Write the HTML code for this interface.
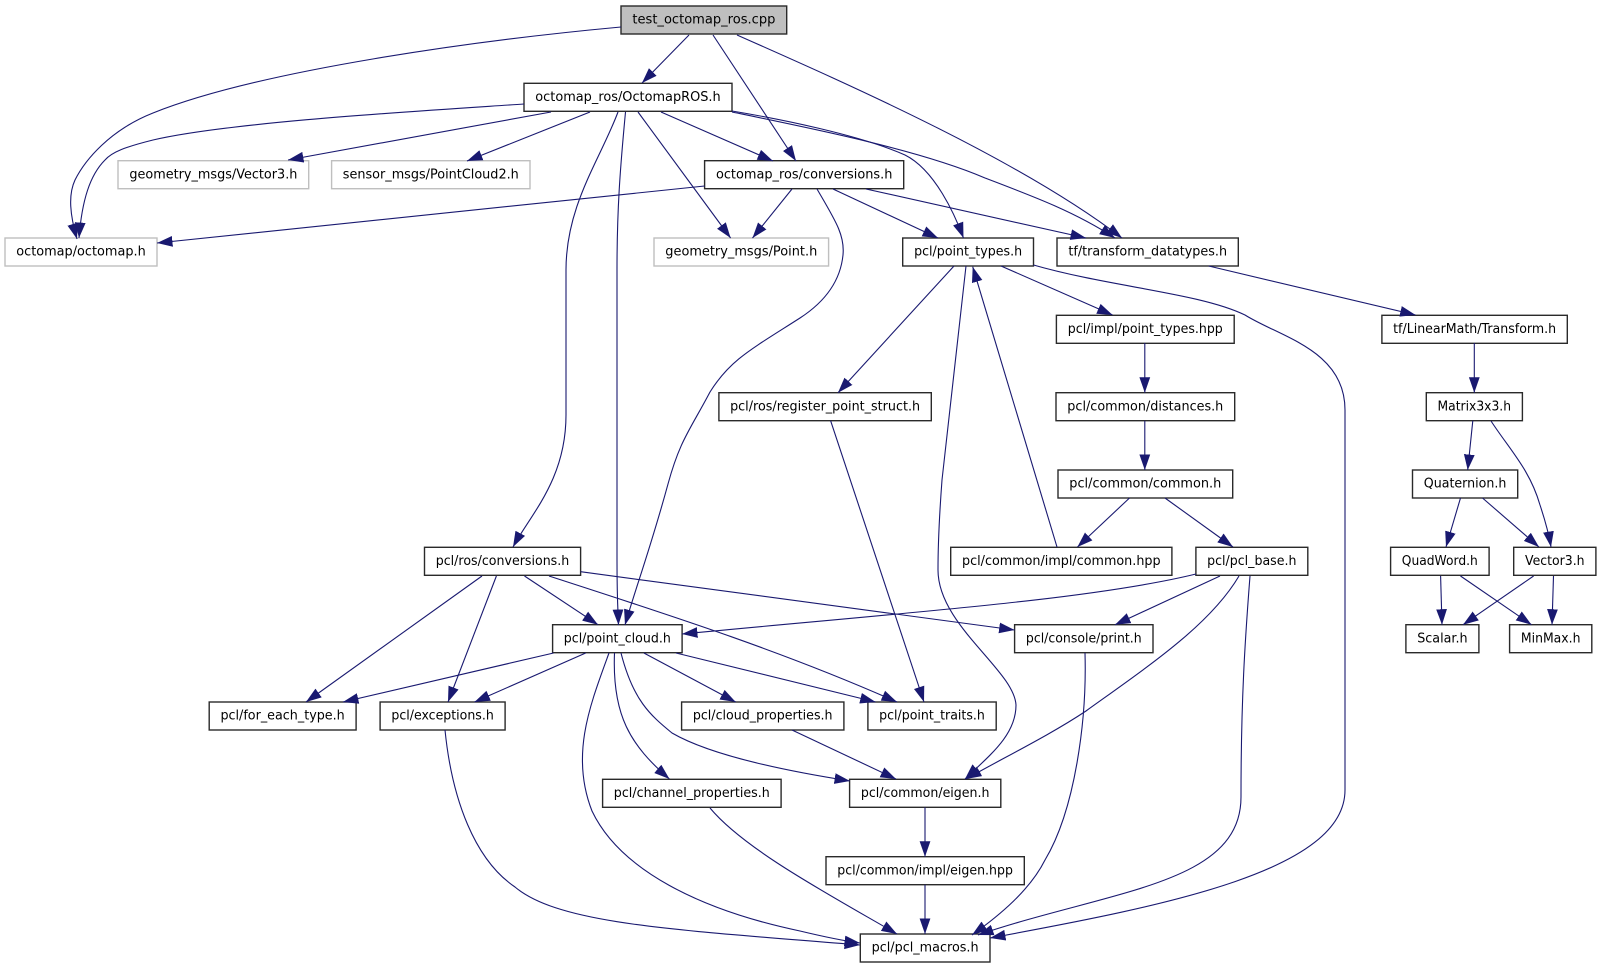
<!DOCTYPE html>
<html>
<head>
<meta charset="utf-8">
<style>
html,body{margin:0;padding:0;background:#fff;}
svg{display:block;}
text{font-family:"DejaVu Sans",sans-serif;font-size:13.5px;fill:#000;text-anchor:middle;}
rect{fill:#fff;stroke:#2a2a2a;stroke-width:1.4;}
rect.g{stroke:#bfbfbf;}
rect.r{fill:#bfbfbf;}
path{fill:none;stroke:#191970;stroke-width:1.1;marker-end:url(#a);}
</style>
</head>
<body>
<svg width="1601" height="968" viewBox="0 0 1601 968" xmlns="http://www.w3.org/2000/svg">
<defs>
<marker id="a" markerUnits="userSpaceOnUse" markerWidth="17" markerHeight="13" refX="15.5" refY="6" orient="auto">
<polygon points="0,0.6 15.5,6 0,11.4" fill="#191970"/>
</marker>
</defs>

<g>
<rect class="r" x="621" y="6" width="165.7" height="28"/>
<rect x="524" y="83.3" width="208" height="28"/>
<rect class="g" x="118" y="160.7" width="190.7" height="28"/>
<rect class="g" x="331.6" y="160.7" width="198.4" height="28"/>
<rect x="704.6" y="160.7" width="199.1" height="28"/>
<rect class="g" x="5" y="238" width="152" height="28"/>
<rect class="g" x="654" y="238" width="174.6" height="28"/>
<rect x="902.7" y="238" width="130.8" height="28"/>
<rect x="1057" y="238" width="181.3" height="28"/>
<rect x="1056.4" y="315.3" width="177.8" height="28"/>
<rect x="1381.9" y="315.3" width="185.4" height="28"/>
<rect x="718.9" y="392.7" width="212.4" height="28"/>
<rect x="1056" y="392.7" width="178.7" height="28"/>
<rect x="1426.3" y="392.7" width="96.1" height="28"/>
<rect x="1058" y="470" width="174.7" height="28"/>
<rect x="1412.5" y="470" width="105.2" height="28"/>
<rect x="424.5" y="547.3" width="156.1" height="28"/>
<rect x="950.7" y="547.3" width="221.2" height="28"/>
<rect x="1195.9" y="547.3" width="111.9" height="28"/>
<rect x="1390.6" y="547.3" width="98.5" height="28"/>
<rect x="1513.7" y="547.3" width="82.2" height="28"/>
<rect x="552.6" y="624.7" width="129.5" height="28"/>
<rect x="1014.6" y="624.7" width="138.4" height="28"/>
<rect x="1405.9" y="624.7" width="73" height="28"/>
<rect x="1509.6" y="624.7" width="82.2" height="28"/>
<rect x="209.2" y="702" width="146.9" height="28"/>
<rect x="380.1" y="702" width="125" height="28"/>
<rect x="681.6" y="702" width="162.3" height="28"/>
<rect x="867.9" y="702" width="128.3" height="28"/>
<rect x="602.6" y="779.3" width="178.5" height="28"/>
<rect x="849.6" y="779.3" width="151.2" height="28"/>
<rect x="826" y="856.7" width="198.3" height="28"/>
<rect x="860.3" y="934" width="129.7" height="28"/>
</g>

<g transform="translate(0,-0.5)">
<text x="703.9" y="24.2" textLength="143" lengthAdjust="spacingAndGlyphs">test_octomap_ros.cpp</text>
<text x="628" y="101.5" textLength="185.4" lengthAdjust="spacingAndGlyphs">octomap_ros/OctomapROS.h</text>
<text x="213.4" y="178.9" textLength="168" lengthAdjust="spacingAndGlyphs">geometry_msgs/Vector3.h</text>
<text x="430.8" y="178.9" textLength="176" lengthAdjust="spacingAndGlyphs">sensor_msgs/PointCloud2.h</text>
<text x="804.2" y="178.9" textLength="176.5" lengthAdjust="spacingAndGlyphs">octomap_ros/conversions.h</text>
<text x="81" y="256.2" textLength="129.5" lengthAdjust="spacingAndGlyphs">octomap/octomap.h</text>
<text x="741.3" y="256.2" textLength="152" lengthAdjust="spacingAndGlyphs">geometry_msgs/Point.h</text>
<text x="968.1" y="256.2" textLength="108" lengthAdjust="spacingAndGlyphs">pcl/point_types.h</text>
<text x="1147.7" y="256.2" textLength="158.7" lengthAdjust="spacingAndGlyphs">tf/transform_datatypes.h</text>
<text x="1145.3" y="333.5" textLength="155" lengthAdjust="spacingAndGlyphs">pcl/impl/point_types.hpp</text>
<text x="1474.6" y="333.5" textLength="163" lengthAdjust="spacingAndGlyphs">tf/LinearMath/Transform.h</text>
<text x="825.1" y="410.9" textLength="190" lengthAdjust="spacingAndGlyphs">pcl/ros/register_point_struct.h</text>
<text x="1145.3" y="410.9" textLength="156" lengthAdjust="spacingAndGlyphs">pcl/common/distances.h</text>
<text x="1474.3" y="410.9" textLength="73.5" lengthAdjust="spacingAndGlyphs">Matrix3x3.h</text>
<text x="1145.3" y="488.2" textLength="152" lengthAdjust="spacingAndGlyphs">pcl/common/common.h</text>
<text x="1465.1" y="488.2" textLength="82.6" lengthAdjust="spacingAndGlyphs">Quaternion.h</text>
<text x="502.5" y="565.5" textLength="133.5" lengthAdjust="spacingAndGlyphs">pcl/ros/conversions.h</text>
<text x="1061.3" y="565.5" textLength="198.6" lengthAdjust="spacingAndGlyphs">pcl/common/impl/common.hpp</text>
<text x="1251.8" y="565.5" textLength="89.3" lengthAdjust="spacingAndGlyphs">pcl/pcl_base.h</text>
<text x="1439.8" y="565.5" textLength="76" lengthAdjust="spacingAndGlyphs">QuadWord.h</text>
<text x="1554.8" y="565.5" textLength="59.6" lengthAdjust="spacingAndGlyphs">Vector3.h</text>
<text x="617.3" y="642.9" textLength="107" lengthAdjust="spacingAndGlyphs">pcl/point_cloud.h</text>
<text x="1083.8" y="642.9" textLength="115.8" lengthAdjust="spacingAndGlyphs">pcl/console/print.h</text>
<text x="1442.4" y="642.9" textLength="50.4" lengthAdjust="spacingAndGlyphs">Scalar.h</text>
<text x="1550.7" y="642.9" textLength="59.6" lengthAdjust="spacingAndGlyphs">MinMax.h</text>
<text x="282.6" y="720.2" textLength="124.3" lengthAdjust="spacingAndGlyphs">pcl/for_each_type.h</text>
<text x="442.6" y="720.2" textLength="102.4" lengthAdjust="spacingAndGlyphs">pcl/exceptions.h</text>
<text x="762.7" y="720.2" textLength="139.7" lengthAdjust="spacingAndGlyphs">pcl/cloud_properties.h</text>
<text x="932" y="720.2" textLength="105.7" lengthAdjust="spacingAndGlyphs">pcl/point_traits.h</text>
<text x="691.8" y="797.5" textLength="156" lengthAdjust="spacingAndGlyphs">pcl/channel_properties.h</text>
<text x="925.2" y="797.5" textLength="128.6" lengthAdjust="spacingAndGlyphs">pcl/common/eigen.h</text>
<text x="925.1" y="874.9" textLength="175.7" lengthAdjust="spacingAndGlyphs">pcl/common/impl/eigen.hpp</text>
<text x="925.1" y="952.2" textLength="107" lengthAdjust="spacingAndGlyphs">pcl/pcl_macros.h</text>
</g>

<g>
<!-- root -->
<path d="M621,27 C480,40 260,70 153,113 C110,130 85,160 75,180 C68,195 70,215 77,239"/>
<path d="M689,35 L642,83"/>
<path d="M713,35 L796,161"/>
<path d="M737,35 C850,85 1020,160 1122,238"/>
<!-- OctomapROS -->
<path d="M524,104 C420,111 230,122 153,140 C125,147 112,152 105,160 C90,175 82,200 79,238"/>
<path d="M551,112 L288,160"/>
<path d="M590,112 L467,161"/>
<path d="M618,112 C600,160 566,205 566,270 L566,415 C566,480 530,515 513,547"/>
<path d="M625.5,112 C620,170 617,210 617,270 L617,560 C617,600 618,610 618.5,625"/>
<path d="M638,112 L730.6,238"/>
<path d="M661,112 L773,161"/>
<path d="M732,111 C780,119 860,135 905,155 C935,170 955,215 963.5,238"/>
<path d="M732,112 C810,128 920,150 985,178 C1035,197 1075,212 1115,238"/>
<!-- conversions -->
<path d="M704.6,186 L157,243"/>
<path d="M792,189 L752.5,238"/>
<path d="M817,189 C835,220 845,235 843,255 C840,285 820,305 800,318 C750,350 730,360 710,392 C690,430 680,440 668,484 C650,550 635,590 625,625"/>
<path d="M833,189 L938,238"/>
<path d="M866,189 L1086,238"/>
<!-- point_types -->
<path d="M954,266 L838,392.7"/>
<path d="M1001,266 L1112.6,315"/>
<path d="M1033.5,265 C1110,287 1200,293 1245,315 C1280,337 1345,350 1345,410 L1345,790 C1345,870 1170,905 990,938"/>
<path d="M966,266 L942,480 C939,520 938,550 938,570 C938,625 1014,670 1016,705 C1016,735 990,755 965,779"/>
<path d="M1057,547 L972.7,266.7"/>
<path d="M1144.8,343 L1144.8,392.7"/>
<path d="M1144.8,420.7 L1144.8,470"/>
<path d="M1129.5,498 L1077.4,547"/>
<path d="M1165,498 L1233,547"/>
<!-- pcl_base -->
<path d="M1196,574 C1090,600 900,613 682,634"/>
<path d="M1220,576 L1115,624.7"/>
<path d="M1239,576 C1210,625 1150,665 1086,711 C1050,735 1005,757 966,779"/>
<path d="M1250,576 C1245,640 1241,700 1241,797 C1241,885 1110,890 978,935"/>
<path d="M1085,653 C1087,720 1075,810 1045,860 C1030,890 1000,915 972,935"/>
<path d="M925,807.3 L925,856.7"/>
<path d="M925,884.7 L925,934"/>
<path d="M710,808 C745,850 830,895 897,934"/>
<path d="M792,730 L896,779"/>
<!-- ros/conversions -->
<path d="M482,576 L306,702"/>
<path d="M496.4,576 L448,702"/>
<path d="M524.5,576 L598,624.7"/>
<path d="M549,576 C660,612 780,650 897,702"/>
<path d="M580.6,571.7 L1014.6,630"/>
<!-- point_cloud -->
<path d="M553.6,653 L343,702"/>
<path d="M585.7,653 L474.5,702"/>
<path d="M609,653 C590,705 570,755 592,811 C620,870 700,910 800,931 C825,937 845,941 860,943"/>
<path d="M614.5,653 C612,715 630,745 669.5,779"/>
<path d="M621,653 C633,700 650,715 672,733 C710,755 780,770 850,781"/>
<path d="M643.9,653 L735.7,702"/>
<path d="M676,653 L875.6,702"/>
<path d="M830.6,420.7 L924,702"/>
<path d="M445,730 C452,800 475,860 515,887 C560,925 680,930 860,945"/>
<!-- LinearMath -->
<path d="M1208.7,266 L1415.6,315"/>
<path d="M1474.3,343 L1474.3,392.7"/>
<path d="M1472.8,420.7 L1467.7,470"/>
<path d="M1491,421 C1510,450 1530,470 1540,505 C1545,520 1549,535 1551,547"/>
<path d="M1460.5,498 L1446,547"/>
<path d="M1482.5,498 L1539,547"/>
<path d="M1440.6,576 L1442,624.7"/>
<path d="M1460.5,576 L1531.5,624.7"/>
<path d="M1533.6,576 L1463,624.7"/>
<path d="M1553.5,576 L1552,624.7"/>
</g>
</svg>
</body>
</html>
